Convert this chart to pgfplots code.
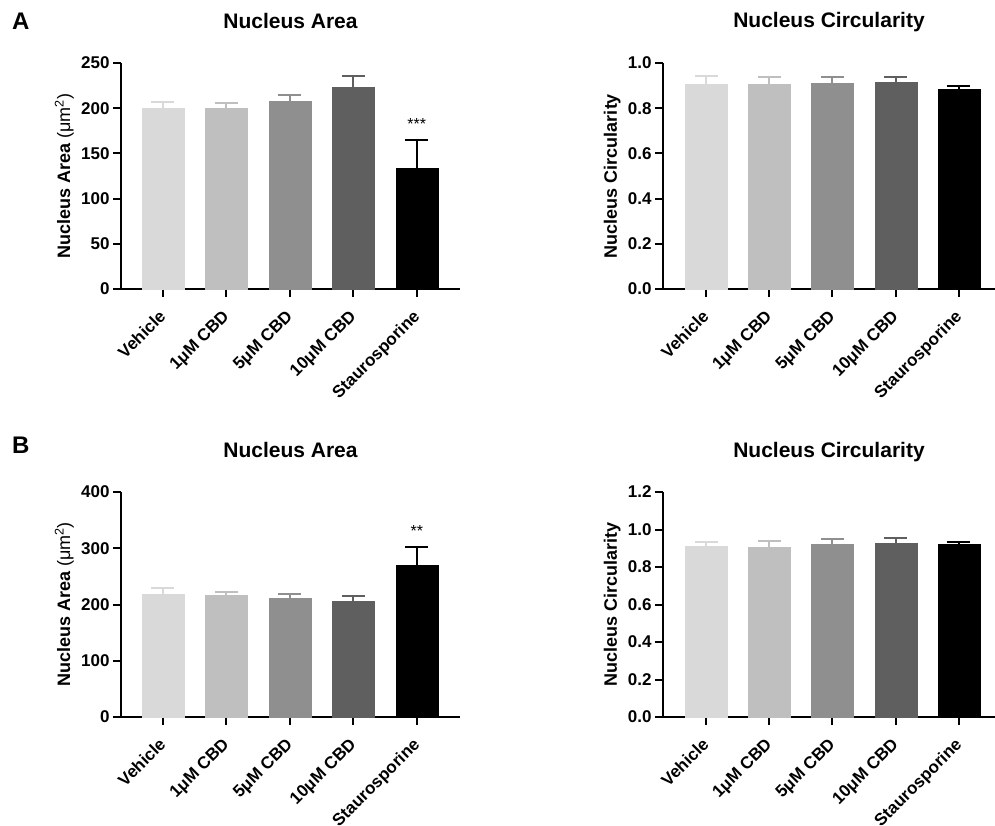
\documentclass[border=0pt]{standalone}
\usepackage{fontspec}
\setmainfont{Liberation Sans}
\usepackage{pgfplots}
\pgfplotsset{compat=1.18}
\definecolor{c1}{HTML}{D9D9D9}
\definecolor{c2}{HTML}{BFBFBF}
\definecolor{c3}{HTML}{8F8F8F}
\definecolor{c4}{HTML}{5F5F5F}
\definecolor{c5}{HTML}{000000}
\pgfplotsset{
  panel/.style={
    scale only axis, ymin=0,
    axis lines=left, axis line style={-, line width=2pt, black},
    xtick={0,1,2,3,4},
    xticklabels={Vehicle,1μM CBD,5μM CBD,10μM CBD,Staurosporine},
    x tick label style={xshift=-5pt, yshift=-11.8pt, rotate=45, anchor=north east, font=\fontsize{17}{20}\selectfont\bfseries, inner sep=0pt},
    y tick label style={font=\fontsize{17}{20}\selectfont\bfseries},
    tick align=outside, major tick length=8pt, tick style={line width=2pt, black},
    minor tick num=0,
    /pgf/number format/assume math mode=true,
    clip=false,
    title style={font=\fontsize{21}{24}\selectfont\bfseries, at={(0.5,1)}, anchor=base, yshift=29pt},
    ylabel style={font=\fontsize{18}{21}\selectfont\bfseries, anchor=base, rotate=0},
  },
  leftpanel/.style={panel, width=339pt, xmin=-0.66, xmax=4.68,
    ylabel style={at={(axis description cs:-0.1504,0.5)}}},
  rightpanel/.style={panel, width=332pt, xmin=-0.68, xmax=4.57,
    ylabel style={at={(axis description cs:-0.1386,0.5)}},
    yticklabel style={/pgf/number format/.cd, fixed, fixed zerofill, precision=1}},
  gbar/.style={ybar, bar width=42pt, bar shift=0pt, fill=#1, draw=#1, line width=0.4pt,
    error bars/.cd, y dir=plus, y explicit, error mark=|,
    error bar style={line width=2pt, #1},
    error mark options={line width=2pt, #1, mark size=11.5pt}},
}
\begin{document}
\begin{tikzpicture}[x=1pt,y=1pt]
\useasboundingbox (0,0) rectangle (995,-826);
\node[anchor=north west, inner sep=0, font=\fontsize{24}{28}\selectfont\bfseries] at (12,-13) {A};
\node[anchor=north west, inner sep=0, font=\fontsize{24}{28}\selectfont\bfseries] at (12,-437) {B};

% A left
\begin{axis}[leftpanel, at={(121pt,-289pt)}, anchor=south west, height=226pt,
  ymax=250, ytick={0,50,100,150,200,250},
  title={Nucleus Area}, ylabel={Nucleus Area {\mdseries(μm\textsuperscript{2})}}]
\addplot[gbar=c1] coordinates {(0,200) +- (0,7)};
\addplot[gbar=c2] coordinates {(1,200) +- (0,5.5)};
\addplot[gbar=c3] coordinates {(2,207.5) +- (0,7.5)};
\addplot[gbar=c4] coordinates {(3,223.5) +- (0,12)};
\addplot[gbar=c5] coordinates {(4,134) +- (0,31)};
\node[font=\fontsize{16}{18}\selectfont] at (axis cs:4,183) {***};
\end{axis}

% A right
\begin{axis}[rightpanel, at={(663pt,-289pt)}, anchor=south west, height=226pt,
  ymax=1.0, ytick={0,0.2,0.4,0.6,0.8,1.0},
  title={Nucleus Circularity}, ylabel={Nucleus Circularity}]
\addplot[gbar=c1] coordinates {(0,0.905) +- (0,0.036)};
\addplot[gbar=c2] coordinates {(1,0.907) +- (0,0.033)};
\addplot[gbar=c3] coordinates {(2,0.910) +- (0,0.030)};
\addplot[gbar=c4] coordinates {(3,0.914) +- (0,0.024)};
\addplot[gbar=c5] coordinates {(4,0.882) +- (0,0.018)};
\end{axis}

% B left
\begin{axis}[leftpanel, at={(121pt,-717pt)}, anchor=south west, height=225pt,
  ymax=400, ytick={0,100,200,300,400},
  title={Nucleus Area}, ylabel={Nucleus Area {\mdseries(μm\textsuperscript{2})}}]
\addplot[gbar=c1] coordinates {(0,219) +- (0,10)};
\addplot[gbar=c2] coordinates {(1,216) +- (0,7)};
\addplot[gbar=c3] coordinates {(2,211.5) +- (0,7)};
\addplot[gbar=c4] coordinates {(3,206) +- (0,8.5)};
\addplot[gbar=c5] coordinates {(4,269) +- (0,34)};
\node[font=\fontsize{16}{18}\selectfont] at (axis cs:4,330) {**};
\end{axis}

% B right
\begin{axis}[rightpanel, at={(663pt,-717pt)}, anchor=south west, height=225pt,
  ymax=1.2, ytick={0,0.2,0.4,0.6,0.8,1.0,1.2},
  title={Nucleus Circularity}, ylabel={Nucleus Circularity}]
\addplot[gbar=c1] coordinates {(0,0.912) +- (0,0.023)};
\addplot[gbar=c2] coordinates {(1,0.907) +- (0,0.032)};
\addplot[gbar=c3] coordinates {(2,0.919) +- (0,0.029)};
\addplot[gbar=c4] coordinates {(3,0.928) +- (0,0.025)};
\addplot[gbar=c5] coordinates {(4,0.923) +- (0,0.012)};
\end{axis}
\end{tikzpicture}
\end{document}
